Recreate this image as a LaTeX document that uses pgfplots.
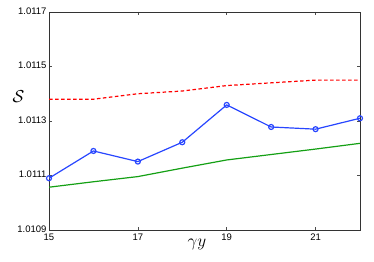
\documentclass[border=0pt]{standalone}
\usepackage{fontspec}
\setmainfont{Liberation Sans}
\usepackage{pgfplots}
\pgfplotsset{compat=1.18}
\begin{document}
\begin{tikzpicture}
\begin{axis}[
  scale only axis,
  width=311pt, height=218pt,
  xmin=15, xmax=22, ymin=1.0109, ymax=1.0117,
  xtick={15,17,19,21},
  ytick={1.0109,1.0111,1.0113,1.0115,1.0117},
  yticklabels={1.0109,1.0111,1.0113,1.0115,1.0117},
  xticklabels={15,17,19,21},
  tick align=inside,
  major tick length=3pt,
  tick style={black!70, line width=0.5pt},
  axis line style={black!80, line width=0.8pt},
  tick label style={font=\fontsize{9.5}{10}\selectfont},
  /pgf/number format/assume math mode=true,
  xticklabel style={yshift=-0.5pt},
  yticklabel style={xshift=1pt, yshift=1pt},
  xlabel={$\gamma y$},
  ylabel={$\mathcal{S}$},
  xlabel style={font=\fontsize{18}{20}\selectfont, at={(rel axis cs:0.476,0)}, anchor=north, yshift=-6pt},
  ylabel style={font=\fontsize{19}{21}\selectfont, rotate=-90, at={(rel axis cs:0,0.61)}, anchor=east, xshift=-21pt},
]
\addplot[color=red, line width=1.2pt, dash pattern=on 3.5pt off 2.5pt] coordinates {
(15,1.01138) (16,1.01138) (17,1.01140) (18,1.01141) (19,1.01143) (20,1.01144) (21,1.01145) (22,1.01145)};
\addplot[color={rgb,255:red,40;green,70;blue,255}, line width=1.2pt, mark=o, mark size=2.5pt, mark options={solid}] coordinates {
(15,1.01109) (16,1.01119) (17,1.011151) (18,1.011222) (19,1.011359) (20,1.011278) (21,1.01127) (22,1.01131)};
\addplot[color={rgb,255:red,20;green,160;blue,20}, line width=1.2pt] coordinates {
(15,1.011057) (16,1.011077) (17,1.011096) (18,1.011127) (19,1.011157) (20,1.011177) (21,1.011197) (22,1.011218)};
\end{axis}
\path ([shift={(-49pt,-32pt)}]current axis.south west) rectangle ([shift={(14pt,12pt)}]current axis.north east);
\end{tikzpicture}
\end{document}
